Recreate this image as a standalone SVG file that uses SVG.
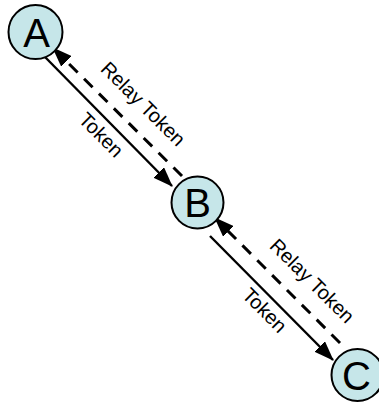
<svg xmlns="http://www.w3.org/2000/svg" width="379" height="402" viewBox="0 0 379 402">
  <defs>
    <marker id="arr" viewBox="0 0 20 15" refX="19" refY="7.5" markerWidth="20" markerHeight="15" markerUnits="userSpaceOnUse" orient="auto">
      <path d="M0,0 L20,7.5 L0,15 Z" fill="#000"/>
    </marker>
    <style>
      .node circle { fill: #c6e6e9; stroke: #000; stroke-width: 2; }
      .node text { font-family: "Liberation Sans", Arial, sans-serif; font-size: 40px; text-anchor: middle; fill: #000; }
      .edge { stroke: #000; stroke-width: 2.4; fill: none; marker-end: url(#arr); }
      .dash { stroke-width: 3; stroke-dasharray: 12 9; }
      .lbl { font-family: "Liberation Sans", Arial, sans-serif; font-size: 20px; text-anchor: middle; fill: #000; }
    </style>
  </defs>
  <rect width="379" height="402" fill="#fff"/>
  <g id="connectors">
    <line class="edge" x1="45" y1="57" x2="172" y2="186"/>
    <line class="edge dash" x1="182" y1="176" x2="53" y2="48"/>
    <line class="edge" x1="210" y1="236" x2="333" y2="360"/>
    <line class="edge dash" x1="340" y1="343" x2="215" y2="218"/>
    <text class="lbl" transform="translate(142,105) rotate(45)" y="5.2">Relay Token</text>
    <text class="lbl" transform="translate(101.5,134.5) rotate(45)" y="7.3">Token</text>
    <text class="lbl" transform="translate(311,282) rotate(45)" y="5.2">Relay Token</text>
    <text class="lbl" transform="translate(265,310) rotate(45)" y="7.3">Token</text>
  </g>
  <g id="A" class="node">
    <circle cx="35.5" cy="32" r="27"/>
    <text x="36.5" y="46.5">A</text>
  </g>
  <g id="B" class="node">
    <circle cx="197.5" cy="202.5" r="26"/>
    <text x="197.5" y="217">B</text>
  </g>
  <g id="C" class="node">
    <circle cx="357.5" cy="375" r="26"/>
    <text x="356.5" y="389.5">C</text>
  </g>
</svg>
